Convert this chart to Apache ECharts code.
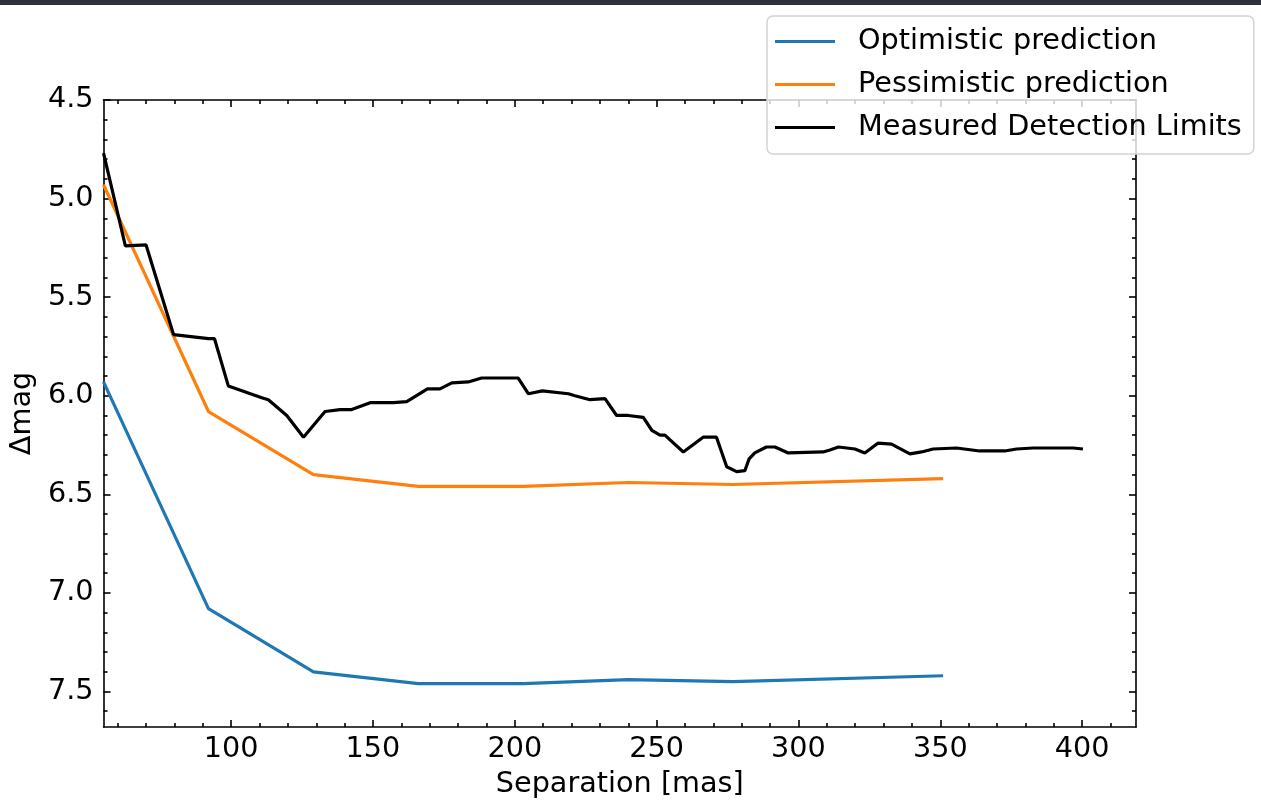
<!DOCTYPE html>
<html>
<head>
<meta charset="utf-8">
<title>Detection limits vs separation</title>
<script src="https://cdn.jsdelivr.net/npm/echarts@6/dist/echarts.min.js"></script>
<style>
  html, body { margin: 0; padding: 0; background: #ffffff; }
  #chart { width: 1261px; height: 805px; }
</style>
</head>
<body>
<div id="chart"></div>
<script>
// Predicted contrast curves (Δmag) at the model separations [mas]
const predSeparation = [55, 92, 129, 166, 203, 240, 277, 351];
const optimistic     = [5.93, 7.08, 7.40, 7.46, 7.46, 7.44, 7.45, 7.42];
const pessimistic    = [4.93, 6.08, 6.40, 6.46, 6.46, 6.44, 6.45, 6.42];

// Measured detection limits
const measSeparation = [
  55, 62.7, 70.0, 79.7, 92.0, 94.1, 99.0, 110.8, 113.1, 119.6,
  125.5, 133.1, 138.4, 142.5, 149.0, 157.2, 161.9, 169.2, 173.6, 177.8,
  183.6, 188.3, 201.2, 204.8, 209.7, 218.9, 221.2, 226.5, 231.8, 235.9,
  240.0, 245.3, 248.3, 251.2, 252.9, 259.4, 266.4, 271.1, 274.7, 278.2,
  281.1, 282.6, 284.6, 288.7, 291.7, 296.4, 308.7, 311.1, 314.1, 319.9,
  323.4, 328.1, 332.8, 339.3, 343.4, 347.5, 355.7, 363.9, 372.7, 376.9,
  382.7, 396.8, 400.3
];
const measured = [
  4.77, 5.24, 5.235, 5.69, 5.71, 5.71, 5.95, 6.01, 6.02, 6.10,
  6.21, 6.08, 6.07, 6.07, 6.035, 6.035, 6.03, 5.965, 5.965, 5.935,
  5.93, 5.91, 5.91, 5.99, 5.975, 5.99, 6.00, 6.02, 6.015, 6.10,
  6.10, 6.11, 6.175, 6.20, 6.20, 6.285, 6.21, 6.21, 6.36, 6.385,
  6.38, 6.32, 6.29, 6.26, 6.26, 6.29, 6.285, 6.275, 6.26, 6.27,
  6.29, 6.24, 6.245, 6.295, 6.285, 6.27, 6.265, 6.28, 6.28, 6.27,
  6.265, 6.265, 6.27
];

// Tick positions
const xMajorTicks = [100, 150, 200, 250, 300, 350, 400];
const xMinorTicks = [60, 70, 80, 90, 110, 120, 130, 140, 160, 170, 180, 190,
  210, 220, 230, 240, 260, 270, 280, 290, 310, 320, 330, 340,
  360, 370, 380, 390, 410];
const yMajorTicks = [4.5, 5.0, 5.5, 6.0, 6.5, 7.0, 7.5];
const yMinorTicks = [4.6, 4.7, 4.8, 4.9, 5.1, 5.2, 5.3, 5.4, 5.6, 5.7, 5.8, 5.9,
  6.1, 6.2, 6.3, 6.4, 6.6, 6.7, 6.8, 6.9, 7.1, 7.2, 7.3, 7.4, 7.6];

const X_MIN = 55, X_MAX = 419;
const Y_MIN = 4.5, Y_MAX = 7.68;

const FONT = 'DejaVu Sans';
const FONT_SIZE = 28.7;
const INK = '#000000';
const AXIS_W = 1.6;
const LINE_W = 3.2;

function zip(xs, ys) { return xs.map((x, i) => [x, ys[i]]); }

function xAxisDef(position, ticks, len, withLine, withLabels) {
  return {
    type: 'value', position: position, min: X_MIN, max: X_MAX,
    splitLine: { show: false },
    axisLine: { show: withLine, onZero: false, lineStyle: { color: INK, width: AXIS_W } },
    axisTick: { show: true, inside: true, length: len, customValues: ticks,
                lineStyle: { color: INK, width: AXIS_W } },
    axisLabel: withLabels
      ? { show: true, customValues: ticks, fontFamily: FONT, fontSize: FONT_SIZE, color: INK, margin: 8 }
      : { show: false },
    ...(withLabels ? {
      name: 'Separation [mas]', nameLocation: 'middle', nameGap: 43,
      nameTextStyle: { fontFamily: FONT, fontSize: FONT_SIZE, color: INK }
    } : {})
  };
}

function yAxisDef(position, ticks, len, withLine, withLabels) {
  return {
    type: 'value', position: position, min: Y_MIN, max: Y_MAX, inverse: true,
    splitLine: { show: false },
    axisLine: { show: withLine, onZero: false, lineStyle: { color: INK, width: AXIS_W } },
    axisTick: { show: true, inside: true, length: len, customValues: ticks,
                lineStyle: { color: INK, width: AXIS_W } },
    axisLabel: withLabels
      ? { show: true, customValues: ticks, fontFamily: FONT, fontSize: FONT_SIZE, color: INK, margin: 10,
          formatter: v => v.toFixed(1) }
      : { show: false },
    ...(withLabels ? {
      name: 'Δmag', nameLocation: 'middle', nameGap: 62, nameRotate: 90,
      nameTextStyle: { fontFamily: FONT, fontSize: FONT_SIZE, color: INK }
    } : {})
  };
}

const chart = echarts.init(document.getElementById('chart'), null, { renderer: 'canvas' });

chart.setOption({
  animation: false,
  backgroundColor: '#ffffff',
  grid: { left: 103, right: 125, top: 100, bottom: 78, containLabel: false },
  graphic: [{
    type: 'rect', left: 0, top: 0, z: 100,
    shape: { width: 1261, height: 5 },
    style: { fill: '#2c313c' }
  }],
  legend: {
    orient: 'vertical', left: 767, top: 16,
    padding: [11, 12, 12, 8],
    itemWidth: 60, itemHeight: 3, itemGap: 14,
    icon: 'rect',
    selectedMode: false,
    backgroundColor: 'rgba(255,255,255,0.8)',
    borderColor: '#d4d4d4', borderWidth: 1.5, borderRadius: 6,
    textStyle: { fontFamily: FONT, fontSize: FONT_SIZE, lineHeight: 28, color: INK, padding: [0, 0, 0, 18] },
    data: ['Optimistic prediction', 'Pessimistic prediction', 'Measured Detection Limits']
  },
  xAxis: [
    xAxisDef('bottom', xMajorTicks, 7, true, true),
    xAxisDef('bottom', xMinorTicks, 4, false, false),
    xAxisDef('top', xMajorTicks, 7, true, false),
    xAxisDef('top', xMinorTicks, 4, false, false)
  ],
  yAxis: [
    yAxisDef('left', yMajorTicks, 7, true, true),
    yAxisDef('left', yMinorTicks, 4, false, false),
    yAxisDef('right', yMajorTicks, 7, true, false),
    yAxisDef('right', yMinorTicks, 4, false, false)
  ],
  series: [
    {
      name: 'Optimistic prediction', type: 'line', xAxisIndex: 0, yAxisIndex: 0,
      data: zip(predSeparation, optimistic), symbol: 'none',
      lineStyle: { color: '#1f77b4', width: LINE_W }, itemStyle: { color: '#1f77b4' }
    },
    {
      name: 'Pessimistic prediction', type: 'line', xAxisIndex: 0, yAxisIndex: 0,
      data: zip(predSeparation, pessimistic), symbol: 'none',
      lineStyle: { color: '#ff7f0e', width: LINE_W }, itemStyle: { color: '#ff7f0e' }
    },
    {
      name: 'Measured Detection Limits', type: 'line', xAxisIndex: 0, yAxisIndex: 0,
      data: zip(measSeparation, measured), symbol: 'none',
      lineStyle: { color: '#000000', width: LINE_W }, itemStyle: { color: '#000000' }
    }
  ]
});
</script>
</body>
</html>
